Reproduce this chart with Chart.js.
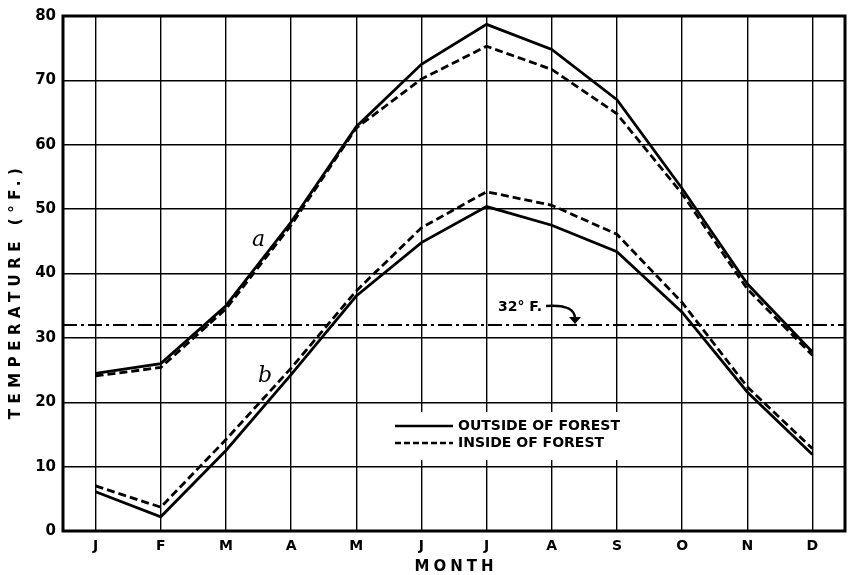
<!DOCTYPE html>
<html>
<head>
<meta charset="utf-8">
<script src="https://cdn.jsdelivr.net/npm/chart.js@4"></script>
<style>
  html, body { margin: 0; padding: 0; background: #fff; }
  #wrap { width: 850px; height: 575px; }
</style>
</head>
<body>
<div id="wrap"><canvas id="grafico" width="850" height="575"></canvas></div>
<script>
// dados
const meses = ['J', 'F', 'M', 'A', 'M', 'J', 'J', 'A', 'S', 'O', 'N', 'D'];
const foraA = [24.5, 26.0, 35.0, 48.0, 62.8, 72.5, 78.7, 74.8, 67.0, 53.2, 38.4, 27.8];
const dentroA = [24.1, 25.4, 34.5, 47.5, 62.6, 70.2, 75.3, 71.7, 64.8, 52.4, 37.6, 27.3];
const foraB = [6.1, 2.2, 12.5, 24.3, 36.5, 44.8, 50.4, 47.5, 43.4, 34.0, 21.6, 11.9];
const dentroB = [7.0, 3.7, 14.2, 25.3, 37.3, 47.1, 52.7, 50.6, 46.1, 35.5, 22.4, 12.8];
const congelamento = 32;
const legendas = ['OUTSIDE OF FOREST', 'INSIDE OF FOREST'];

const fonteBold = '"DejaVu Sans", "Liberation Sans", sans-serif';

function serie(dados, tracejado) {
    return {
        data: dados,
        borderColor: '#000',
        borderWidth: 2.8,
        borderDash: tracejado ? [8, 4] : [],
        pointRadius: 0,
        tension: 0,
        fill: false
    };
}

// desenha borda, linha de 32°F, anotações, legenda e títulos
const extras = {
    id: 'extras',
    afterDatasetsDraw(chart) {
        const ctx = chart.ctx;
        const area = chart.chartArea;
        const y = chart.scales.y;
        const x = chart.scales.x;
        ctx.save();

        // linha de 32° F
        const y32 = y.getPixelForValue(congelamento);
        ctx.strokeStyle = '#000';
        ctx.lineWidth = 2;
        ctx.setLineDash([14, 4, 3, 4]);
        ctx.beginPath();
        ctx.moveTo(area.left, y32);
        ctx.lineTo(area.right, y32);
        ctx.stroke();
        ctx.setLineDash([]);

        // texto 32° F. e seta
        ctx.fillStyle = '#000';
        ctx.font = 'bold 14px ' + fonteBold;
        ctx.textBaseline = 'middle';
        ctx.textAlign = 'left';
        ctx.fillText('32° F.', 498, y32 - 18);
        ctx.lineWidth = 2.4;
        ctx.beginPath();
        ctx.moveTo(546, y32 - 19);
        ctx.quadraticCurveTo(574, y32 - 21, 575, y32 - 7);
        ctx.stroke();
        ctx.beginPath();
        ctx.moveTo(569, y32 - 8);
        ctx.lineTo(581, y32 - 8);
        ctx.lineTo(575, y32 - 1);
        ctx.closePath();
        ctx.fill();

        // rótulos a e b
        ctx.font = 'italic 22px "DejaVu Serif", "Liberation Serif", serif';
        ctx.textAlign = 'center';
        ctx.fillText('a', x.getPixelForValue(2.5), 240);
        ctx.fillText('b', x.getPixelForValue(2.6), 376);

        // legenda
        ctx.fillStyle = '#fff';
        ctx.fillRect(390, 412, 245, 48);
        ctx.fillStyle = '#000';
        ctx.strokeStyle = '#000';
        ctx.lineWidth = 2.6;
        const linhas = [426, 443];
        linhas.forEach(function (ly, i) {
            ctx.setLineDash(i === 0 ? [] : [6, 3]);
            ctx.beginPath();
            ctx.moveTo(395, ly);
            ctx.lineTo(453, ly);
            ctx.stroke();
        });
        ctx.setLineDash([]);
        ctx.font = 'bold 14px ' + fonteBold;
        ctx.textAlign = 'left';
        ctx.fillText(legendas[0], 458, linhas[0]);
        ctx.fillText(legendas[1], 458, linhas[1]);

        // borda da área do gráfico
        ctx.lineWidth = 3;
        ctx.strokeRect(area.left, area.top, area.right - area.left, area.bottom - area.top);

        // títulos dos eixos
        ctx.font = 'bold 15px ' + fonteBold;
        ctx.letterSpacing = '4px';
        ctx.textAlign = 'center';
        ctx.fillText('MONTH', (area.left + area.right) / 2 + 2, 567);
        ctx.letterSpacing = '5.5px';
        ctx.translate(16, 294);
        ctx.rotate(-Math.PI / 2);
        ctx.fillText('TEMPERATURE (°F.)', 3, 0);
        ctx.restore();
    }
};

const grafico = new Chart(document.getElementById('grafico'), {
    type: 'line',
    data: {
        labels: meses,
        datasets: [serie(foraA, false), serie(dentroA, true), serie(foraB, false), serie(dentroB, true)]
    },
    options: {
        responsive: false,
        animation: false,
        events: [],
        layout: { padding: { top: 14, right: 5, left: 0, bottom: 0 } },
        plugins: { legend: { display: false }, tooltip: { enabled: false } },
        scales: {
            x: {
                offset: true,
                grid: { offset: false, color: '#000', lineWidth: 1.4, drawTicks: false },
                border: { display: false },
                ticks: { color: '#000', padding: 7, maxRotation: 0, font: { family: fonteBold, weight: 'bold', size: 14 } },
                afterFit(s) { s.height = 44; }
            },
            y: {
                min: 0,
                max: 80,
                grid: { color: '#000', lineWidth: 1.4, drawTicks: false },
                border: { display: false },
                ticks: { stepSize: 10, color: '#000', padding: 7, font: { family: fonteBold, weight: 'bold', size: 15 } },
                afterFit(s) { s.width = 63; }
            }
        }
    },
    plugins: [extras]
});
</script>
</body>
</html>
